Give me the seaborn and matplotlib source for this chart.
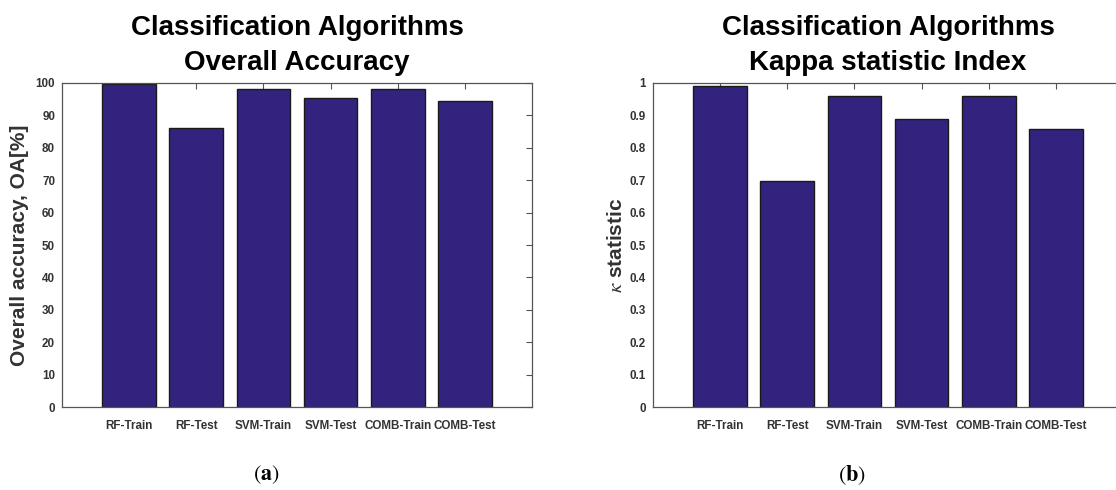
import matplotlib
matplotlib.use("Agg")
import matplotlib.pyplot as plt
import seaborn as sns
from matplotlib.ticker import FuncFormatter

categories = ['RF-Train', 'RF-Test', 'SVM-Train', 'SVM-Test', 'COMB-Train', 'COMB-Test']
overall_accuracy = [99.6, 86.1, 98.0, 95.4, 98.0, 94.3]
kappa_values = [0.991, 0.697, 0.961, 0.889, 0.961, 0.858]
oa_ticks = [0, 10, 20, 30, 40, 50, 60, 70, 80, 90, 100]
kappa_ticks = [0, 0.1, 0.2, 0.3, 0.4, 0.5, 0.6, 0.7, 0.8, 0.9, 1]

bar_color = '#33237f'

sns.set_style("white")
plt.rcParams['font.family'] = ['Liberation Sans', 'DejaVu Sans']
plt.rcParams['mathtext.fontset'] = 'stix'

fig = plt.figure(figsize=(11.16, 4.9), dpi=100)
W, H = 1116, 490
ax1 = fig.add_axes([62 / W, (H - 407) / H, 470 / W, 324 / H])
ax2 = fig.add_axes([653 / W, (H - 407) / H, 470 / W, 324 / H])


def draw_panel(ax, values, ticks, ymax, title, ylabel, label_pad):
    sns.barplot(x=categories, y=values, ax=ax, color=bar_color, saturation=1,
                width=0.8, edgecolor='#1a1a1a', linewidth=1.0)
    ax.set_xlim(-1, 6)
    ax.set_ylim(0, ymax)
    ax.set_yticks(ticks)
    ax.yaxis.set_major_formatter(FuncFormatter(lambda v, p: '%g' % v))
    ax.tick_params(direction='in', length=4, width=0.8, color='#555555',
                   top=True, right=True, labelsize=8.4, labelcolor='#333333')
    ax.tick_params(axis='x', pad=9)
    ax.tick_params(axis='y', pad=5)
    for lab in ax.get_xticklabels() + ax.get_yticklabels():
        lab.set_fontweight('bold')
    for s in ax.spines.values():
        s.set_visible(True)
        s.set_color('#555555')
        s.set_linewidth(0.9)
    ax.set_title(title, fontsize=20, fontweight='bold', color='black', pad=9,
                 linespacing=1.45)
    ax.set_ylabel(ylabel, fontsize=15, fontweight='bold', color='#333333',
                  labelpad=label_pad)


draw_panel(ax1, overall_accuracy, oa_ticks, 100,
           "Classification Algorithms\nOverall Accuracy",
           "Overall accuracy, OA[%]", 5)
draw_panel(ax2, kappa_values, kappa_ticks, 1,
           "Classification Algorithms\nKappa statistic Index",
           r"$\kappa$ statistic", 3)

fig.text(266 / W, 1 - 475 / H, r"$(\mathbf{a})$", ha='center', va='center',
         fontsize=16, color='black')
fig.text(852 / W, 1 - 475 / H, r"$(\mathbf{b})$", ha='center', va='center',
         fontsize=16, color='black')

fig.savefig("out.png", dpi=100)
